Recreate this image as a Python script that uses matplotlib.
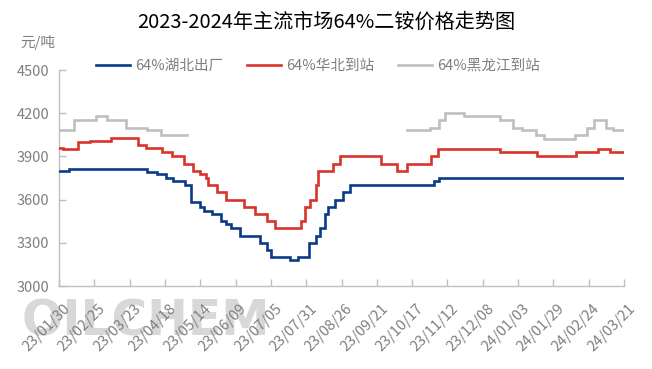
import matplotlib
matplotlib.use("Agg")
import matplotlib.pyplot as plt
import matplotlib.transforms as mtransforms
import numpy as np
import pandas as pd

plt.rcParams['font.family'] = ['Noto Sans CJK SC', 'DejaVu Sans']

title = "2023-2024年主流市场64%二铵价格走势图"
unit_label = "元/吨"
series_names = ["64%湖北出厂", "64%华北到站", "64%黑龙江到站"]
series_colors = ["#0b3a8a", "#d9342b", "#bfbfbf"]

# Hubei ex-factory (change dates and values)
hubei_dates = ["2023-01-30", "2023-02-06", "2023-04-05", "2023-04-12", "2023-04-19",
               "2023-04-24", "2023-05-03", "2023-05-07", "2023-05-14", "2023-05-17",
               "2023-05-23", "2023-05-29", "2023-06-02", "2023-06-06", "2023-06-12",
               "2023-06-27", "2023-07-02", "2023-07-05", "2023-07-19", "2023-07-25",
               "2023-08-02", "2023-08-07", "2023-08-10", "2023-08-14", "2023-08-16",
               "2023-08-21", "2023-08-27", "2023-09-01", "2023-11-02", "2023-11-06",
               "2024-03-21"]
hubei_values = [3800, 3810, 3790, 3780, 3750,
                3730, 3700, 3580, 3550, 3520,
                3500, 3450, 3430, 3400, 3350,
                3300, 3250, 3200, 3180, 3200,
                3300, 3350, 3400, 3500, 3550,
                3600, 3650, 3700, 3730, 3750,
                3750]

# North China delivered
huabei_dates = ["2023-01-30", "2023-02-02", "2023-02-13", "2023-02-22", "2023-03-09",
                "2023-03-29", "2023-04-04", "2023-04-16", "2023-04-23", "2023-05-02",
                "2023-05-09", "2023-05-14", "2023-05-18", "2023-05-20", "2023-05-26",
                "2023-06-02", "2023-06-15", "2023-06-23", "2023-07-02", "2023-07-08",
                "2023-07-27", "2023-07-30", "2023-08-03", "2023-08-07", "2023-08-09",
                "2023-08-20", "2023-08-25", "2023-09-24", "2023-10-06", "2023-10-13",
                "2023-10-31", "2023-11-05", "2023-12-21", "2024-01-17", "2024-02-15",
                "2024-03-02", "2024-03-11", "2024-03-21"]
huabei_values = [3960, 3950, 4000, 4010, 4030,
                 3980, 3960, 3930, 3900, 3850,
                 3800, 3780, 3750, 3700, 3650,
                 3600, 3550, 3500, 3450, 3400,
                 3450, 3550, 3600, 3700, 3800,
                 3850, 3900, 3850, 3800, 3850,
                 3900, 3950, 3930, 3900, 3930,
                 3950, 3930, 3930]

# Heilongjiang delivered (gap between May and October)
hlj_dates = ["2023-01-30", "2023-02-10", "2023-02-26", "2023-03-06", "2023-03-20",
             "2023-04-05", "2023-04-15", "2023-05-03", "2023-05-04",
             "2023-10-13", "2023-10-30", "2023-11-06", "2023-11-10", "2023-11-24",
             "2023-12-21", "2023-12-30", "2024-01-06", "2024-01-16", "2024-01-22",
             "2024-02-14", "2024-02-23", "2024-02-28", "2024-03-08", "2024-03-13",
             "2024-03-21"]
hlj_values = [4080, 4150, 4180, 4150, 4100,
              4080, 4050, 4050, np.nan,
              4080, 4100, 4150, 4200, 4180,
              4150, 4100, 4080, 4050, 4020,
              4050, 4100, 4150, 4100, 4080,
              4080]

x_tick_labels = ["23/01/30", "23/02/25", "23/03/23", "23/04/18", "23/05/14", "23/06/09",
                 "23/07/05", "23/07/31", "23/08/26", "23/09/21", "23/10/17", "23/11/12",
                 "23/12/08", "24/01/03", "24/01/29", "24/02/24", "24/03/21"]
y_ticks = [3000, 3300, 3600, 3900, 4200, 4500]

fig = plt.figure(figsize=(6.52, 3.69), dpi=100)
ax = fig.add_axes([59 / 652, 1 - 286 / 369, (624 - 59) / 652, (286 - 70) / 369])

all_dates = [hubei_dates, huabei_dates, hlj_dates]
all_values = [hubei_values, huabei_values, hlj_values]
for d, v, c, n in zip(all_dates, all_values, series_colors, series_names):
    ax.plot(pd.to_datetime(d), v, drawstyle="steps-post", color=c, lw=1.9, label=n,
            solid_joinstyle="miter", zorder=3)

tick_dates = pd.to_datetime(["20" + s.replace("/", "-") for s in x_tick_labels])
ax.set_xlim(tick_dates[0], tick_dates[-1])
ax.set_ylim(3000, 4500)
ax.set_xticks(tick_dates)
ax.set_xticklabels(x_tick_labels)
ax.set_yticks(y_ticks)
ax.patch.set_alpha(0)

for s in ["top", "right"]:
    ax.spines[s].set_visible(False)
for s in ["left", "bottom"]:
    ax.spines[s].set_color("#bfbfbf")
    ax.spines[s].set_linewidth(1.0)

ax.tick_params(axis="both", direction="in", color="#bfbfbf", length=5, width=1.0,
               labelcolor="#7f7f7f", labelsize=10.5)
ax.tick_params(axis="y", pad=7)
ax.tick_params(axis="x", pad=11)
offset = mtransforms.ScaledTranslation(4 / 100, 0, fig.dpi_scale_trans)
for lbl in ax.get_xticklabels():
    lbl.set_rotation(45)
    lbl.set_ha("right")
    lbl.set_va("top")
    lbl.set_rotation_mode("anchor")
    lbl.set_transform(lbl.get_transform() + offset)

fig.text(0.5, 1 - 22 / 369, title, ha="center", va="center", fontsize=14.5,
         fontweight="medium", color="black")
fig.text(20 / 652, 1 - 42 / 369, unit_label, ha="left", va="center", fontsize=10.5,
         color="#7f7f7f")

leg = fig.legend(loc="center", bbox_to_anchor=(0.488, 1 - 66 / 369), ncol=3, frameon=False,
                 fontsize=10.5, handlelength=2.3, handletextpad=0.4, columnspacing=1.6)
for t in leg.get_texts():
    t.set_color("#7f7f7f")

fig.text(22 / 652, 1 - 322 / 369, "OILCHEM", ha="left", va="center", fontsize=35,
         fontweight="bold", color="#cfcfcf", alpha=0.8, family="DejaVu Sans", zorder=-1)

fig.savefig("out.png", dpi=100)
